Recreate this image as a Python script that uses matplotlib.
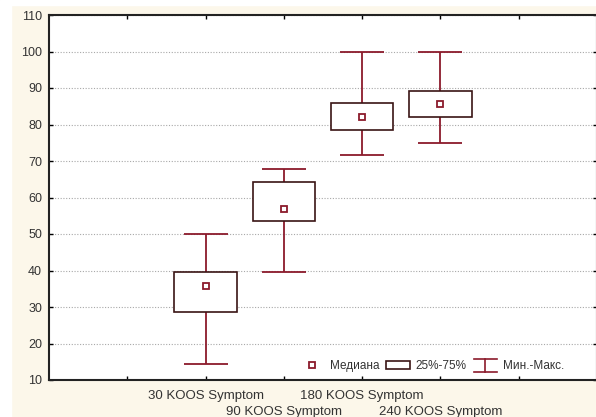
import matplotlib.pyplot as plt
from matplotlib.patches import Rectangle
from matplotlib.lines import Line2D
from matplotlib.legend_handler import HandlerBase

plt.rcParams['font.family'] = ['Liberation Sans', 'DejaVu Sans']

# values
groups = ['30 KOOS Symptom', '90 KOOS Symptom', '180 KOOS Symptom', '240 KOOS Symptom']
medians = [35.8, 56.8, 82.0, 85.5]
q1 = [28.6, 53.6, 78.5, 82.0]
q3 = [39.6, 64.2, 85.8, 89.3]
mins = [14.4, 39.6, 71.6, 75.0]
maxs = [50.0, 67.7, 100.0, 100.0]

yticks = list(range(10, 111, 10))

whisk_col = '#8b1a2b'
box_col = '#3a1414'
bg = '#fcf7ea'


class WhiskerHandler(HandlerBase):
    # I-beam symbol for the min-max legend entry
    def create_artists(self, legend, orig_handle, xdescent, ydescent, width, height, fontsize, trans):
        x0, x1 = -xdescent, -xdescent + width
        xm = (x0 + x1) / 2
        y0, y1 = -ydescent - 0.3 * height, -ydescent + 1.2 * height
        kw = dict(color=whisk_col, lw=1.2, transform=trans)
        return [Line2D([x0, x1], [y0, y0], **kw),
                Line2D([x0, x1], [y1, y1], **kw),
                Line2D([xm, xm], [y0, y1], **kw)]


fig = plt.figure(figsize=(5.96, 4.17), dpi=100, facecolor=bg)
# white strips at the edge of the original screenshot
fig.patches.append(Rectangle((0, 0), 11 / 596, 1, transform=fig.transFigure, color='white', zorder=-1))
fig.patches.append(Rectangle((0, 1 - 5 / 417), 1, 5 / 417, transform=fig.transFigure, color='white', zorder=-1))

ax = fig.add_axes([49 / 596, 1 - 380 / 417, 548 / 596, 365 / 417])
ax.set_facecolor('white')

pos = [2, 3, 4, 5]

err_lo = [m - lo for m, lo in zip(medians, mins)]
err_hi = [hi - m for m, hi in zip(medians, maxs)]
ax.errorbar(pos, medians, yerr=[err_lo, err_hi], fmt='none', ecolor=whisk_col,
            elinewidth=1.3, capsize=16, capthick=1.3, zorder=2)

heights = [b - a for a, b in zip(q1, q3)]
bars = ax.bar(pos, heights, bottom=q1, width=0.8, facecolor='white', edgecolor=box_col,
              linewidth=1.2, zorder=3)

med, = ax.plot(pos, medians, ls='none', marker='s', ms=4.5, mfc='white', mec=whisk_col,
               mew=1.3, zorder=4)

ax.set_xlim(0, 7)
ax.set_ylim(10, 110)
ax.set_yticks(yticks)
ax.yaxis.grid(True, ls=(0, (1, 1.5)), color='#a8a8a8', lw=0.8)
ax.set_axisbelow(True)

# two staggered rows of category labels
ax.set_xticks([1, 2, 4, 6])
ax.set_xticklabels(['', groups[0], groups[2], ''])
ax.set_xticks([3, 5], minor=True)
ax.set_xticklabels([groups[1], groups[3]], minor=True)
ax.tick_params(which='both', direction='in', top=True, right=True, length=3, width=1,
               labelsize=9.5, labelcolor='#333333')
ax.tick_params(axis='x', which='major', pad=7)
ax.tick_params(axis='x', which='minor', pad=19)
ax.tick_params(axis='y', pad=5, labelsize=9)
for s in ax.spines.values():
    s.set_linewidth(1.5)
    s.set_color('#222222')

box_handle = Rectangle((0, 0), 1, 1, facecolor='white', edgecolor=box_col, lw=1.2)
whisk_handle = Line2D([], [], color=whisk_col)
leg = ax.legend([med, box_handle, whisk_handle], ['Медиана', '25%-75%', 'Мин.-Макс.'],
                handler_map={whisk_handle: WhiskerHandler()}, ncol=3,
                frameon=False, loc='lower right', bbox_to_anchor=(0.96, -0.008),
                fontsize=8.5, handlelength=2.0, columnspacing=0.6, handletextpad=0.5)
for t in leg.get_texts():
    t.set_color('#333333')

fig.savefig('out.png', dpi=100, facecolor=bg)
